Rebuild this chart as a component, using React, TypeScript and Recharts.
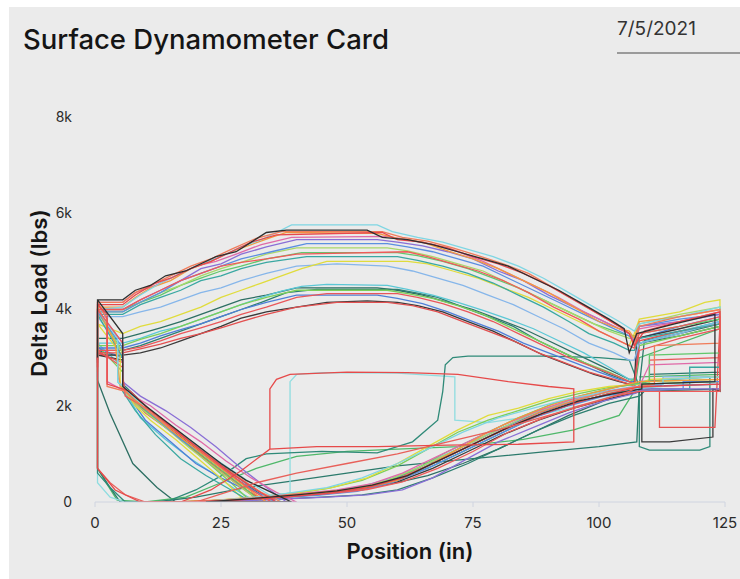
import React from 'react';
import { LineChart, Line, XAxis, YAxis } from 'recharts';

type Pt = [number, number];

// axis ticks
const xTicks = [0, 25, 50, 75, 100, 125];
const yTicks = [0, 2000, 4000, 6000, 8000];

// each card: [position (in), delta load (lbs)] in stroke order
const card01: Pt[] = [[0.5,3000],[0.5,4200],[5.5,4200],[8,4400],[11,4500],[14,4700],[18,4800],[21,4950],[24,5100],[28,5200],[31,5400],[34,5600],[38,5650],[54,5650],[57,5500],[62,5450],[67,5350],[72,5200],[77,5050],[82,4900],[87,4650],[92,4400],[97,4100],[102,3800],[105,3600],[106,3100],[107.5,3500],[115,3700],[123,3900],[123,2500],[108.5,2450],[108.5,2350],[103,2250],[96,2100],[89,1850],[82,1550],[75,1200],[68,850],[62,550],[55,350],[48,230],[40,150],[31,70],[22,0],[39,0],[35,200],[30,450],[25,800],[20,1200],[15,1600],[10,2000],[5.5,2400],[5.5,3500],[0.5,4200]];
const card02: Pt[] = [[0.5,2800],[0.5,4100],[5.5,4100],[8,4300],[12,4550],[15,4650],[19,4850],[23,5000],[27,5200],[31,5400],[36,5550],[57,5600],[60,5450],[65,5400],[70,5280],[75,5100],[80,4950],[85,4750],[90,4500],[95,4200],[100,3900],[104,3650],[106,3500],[107,3250],[109,3550],[116,3750],[124,3950],[124,2450],[110,2400],[107.5,2380],[102,2250],[95,2050],[88,1800],[81,1500],[74,1150],[67,800],[61,500],[54,300],[46,180],[38,100],[28,40],[18,0],[36,0],[32,250],[27,600],[22,1000],[17,1400],[11,1900],[7,2300],[2.4,2450],[2.4,3900],[0.5,4100]];
const card03: Pt[] = [[0.5,3200],[0.5,4000],[5.5,4050],[9,4300],[13,4550],[17,4750],[21,4950],[25,5100],[29,5300],[33,5450],[36,5600],[39,5760],[56,5760],[59,5620],[64,5500],[69,5400],[74,5250],[79,5100],[84,4900],[89,4650],[94,4350],[99,4050],[104,3750],[107,3550],[108,3700],[116,3850],[124,4050],[124,2600],[112.7,2550],[112.7,2400],[107,2350],[101,2280],[94,2150],[87,1950],[80,1750],[73,1450],[66,1100],[60,800],[53,500],[46,300],[38,180],[30,80],[20,0],[37,0],[33,250],[28,600],[23,950],[18,1350],[13,1750],[8,2150],[4.5,2500],[4.5,3400],[0.5,4000]];
const card04: Pt[] = [[0.5,3100],[0.5,4050],[5.5,4050],[8,4250],[11,4450],[15,4600],[19,4850],[23,5000],[27,5200],[31,5350],[35,5500],[38,5600],[56,5580],[60,5480],[65,5400],[70,5220],[75,5050],[80,4850],[85,4600],[90,4350],[95,4050],[100,3750],[104,3600],[106,3550],[107,3400],[108,3750],[116,3850],[124,4000],[124,2550],[108,2500],[102,2350],[96,2200],[90,2000],[84,1750],[78,1450],[72,1100],[66,750],[60,450],[53,280],[45,200],[36,120],[26,50],[16,0],[34,0],[30,300],[25,700],[20,1100],[15,1500],[10,1950],[5,2400],[4,3300],[0.5,4050]];
const card05: Pt[] = [[0.5,2600],[0.5,4150],[5.5,4150],[8,4350],[12,4500],[16,4700],[20,4900],[24,5000],[28,5150],[33,5350],[39,5500],[58,5520],[62,5450],[67,5350],[72,5200],[77,5000],[82,4750],[87,4500],[92,4250],[97,3950],[101,3750],[106,3500],[107,3300],[108,3600],[116,3750],[124,3950],[124,2900],[110,2850],[108,2400],[102,2300],[95,2150],[88,1900],[81,1600],[74,1250],[67,900],[61,600],[55,380],[48,250],[40,170],[32,100],[24,30],[18,0],[40,0],[36,200],[31,500],[26,850],[21,1250],[16,1600],[11,2000],[6,2300],[2.4,2500],[2.4,3800],[0.5,4150]];
const card06: Pt[] = [[0.5,3000],[0.5,4000],[5.5,4000],[9,4200],[13,4400],[17,4600],[21,4850],[25,4950],[29,5150],[34,5300],[40,5450],[56,5450],[60,5400],[65,5320],[70,5200],[75,5050],[80,4800],[85,4600],[90,4300],[95,4050],[100,3800],[104,3600],[106,3500],[107,3350],[108,3650],[116,3750],[124,3900],[124,2350],[109,2350],[107,2250],[101,2100],[94,1850],[87,1550],[80,1250],[73,850],[67,500],[61,250],[54,150],[46,100],[37,60],[28,20],[21,0],[38,0],[34,300],[29,700],[24,1150],[19,1550],[14,1900],[9,2200],[5.5,2500],[5.5,3300],[0.5,4000]];
const card07: Pt[] = [[0.5,3200],[0.5,3950],[5.5,3950],[9,4150],[13,4350],[17,4600],[21,4750],[25,4900],[29,5050],[35,5200],[42,5370],[58,5370],[62,5300],[67,5200],[72,5050],[77,4900],[82,4650],[87,4400],[92,4150],[97,3900],[102,3650],[106,3450],[107,3300],[108,3650],[116,3800],[124,3900],[124,2500],[116.7,2500],[116.7,2350],[107,2300],[101,2200],[94,2000],[87,1750],[80,1400],[73,1050],[66,700],[59,400],[52,220],[44,140],[35,80],[26,30],[19,0],[36,0],[32,200],[27,550],[22,950],[17,1300],[12,1750],[7,2200],[5.5,2450],[5.5,3200],[0.5,3950]];
const card08: Pt[] = [[0.5,3100],[0.5,4000],[5.5,4000],[9,4150],[13,4300],[17,4500],[21,4650],[25,4800],[29,4900],[34,5050],[41,5180],[60,5180],[64,5120],[69,5000],[74,4850],[79,4650],[84,4450],[89,4200],[94,3950],[99,3700],[103,3550],[106,3450],[107,3450],[108,3500],[116,3650],[124,3800],[124,3100],[110,3050],[110,2500],[104,2400],[98,2250],[91,2050],[84,1750],[77,1400],[70,1050],[63,650],[57,400],[50,250],[42,150],[33,80],[24,20],[17,0],[33,0],[29,350],[24,750],[19,1150],[14,1550],[9,2000],[5.5,2400],[5.5,3100],[0.5,4000]];
const card09: Pt[] = [[0.5,2900],[0.5,4000],[5.5,4000],[9,4200],[13,4400],[17,4600],[21,4750],[25,4900],[29,4980],[34,5050],[40,5150],[62,5200],[66,5100],[71,4950],[76,4800],[81,4600],[86,4350],[91,4050],[96,3800],[100,3550],[103,3400],[106,3250],[107,3200],[108,3500],[116,3650],[124,3850],[124,2300],[108,2300],[103,2200],[96,2000],[89,1750],[82,1450],[75,1050],[68,700],[61,420],[54,260],[47,180],[39,120],[30,60],[22,0],[35,0],[31,250],[26,650],[21,1050],[16,1500],[11,1900],[6,2200],[5.5,2600],[5.5,3300],[0.5,4000]];
const card10: Pt[] = [[0.5,3000],[0.5,3900],[5.5,3900],[9,4100],[13,4250],[17,4400],[21,4600],[25,4700],[29,4850],[34,4980],[42,5100],[60,5100],[64,5020],[69,4900],[74,4750],[79,4550],[84,4300],[89,4050],[94,3750],[98,3500],[103,3300],[106,3150],[107,3150],[108,3400],[116,3550],[124,3700],[124,2800],[118,2800],[118,2350],[108,2350],[102,2250],[95,2050],[88,1800],[81,1450],[74,1100],[67,750],[60,450],[53,270],[45,180],[36,110],[27,40],[20,0],[31,0],[27,250],[22,550],[17,900],[12,1400],[8,1900],[5.5,2300],[5.5,3000],[0.5,3900]];
const card11: Pt[] = [[0.5,3000],[0.5,3700],[5.5,3500],[9,3650],[13,3750],[17,3900],[21,4050],[25,4250],[29,4400],[33,4550],[37,4700],[41,4850],[46,5000],[62,5000],[66,4950],[71,4800],[76,4650],[81,4450],[86,4250],[91,4000],[96,3750],[100,3550],[104,3350],[106,3250],[107,3500],[108,3800],[116,3950],[121,4150],[124,4200],[124,2600],[110,2550],[108,2450],[102,2400],[96,2300],[90,2150],[84,1950],[78,1800],[72,1500],[66,1150],[60,800],[54,500],[47,300],[40,190],[31,100],[22,20],[15,0],[30,0],[26,400],[21,850],[16,1300],[11,1700],[8,2000],[5,2450],[5,3100],[0.5,3700]];
const card12: Pt[] = [[0.5,3300],[0.5,3850],[5.5,3850],[9,3950],[13,4050],[17,4200],[21,4350],[25,4450],[29,4600],[34,4750],[40,4900],[48,4950],[58,4900],[63,4800],[68,4650],[73,4500],[78,4300],[83,4100],[88,3850],[93,3600],[98,3300],[103,3100],[106,2950],[107,2950],[108,3300],[116,3500],[124,3750],[124,2600],[112.7,2600],[112.7,2450],[107,2400],[101,2300],[94,2100],[87,1850],[80,1500],[73,1150],[66,800],[59,500],[52,300],[45,200],[37,120],[28,50],[21,0],[36,0],[32,250],[27,600],[22,1000],[17,1400],[11,1850],[6,2250],[4.5,2600],[4.5,3300],[0.5,3850]];
const card13: Pt[] = [[0.5,2900],[0.5,3300],[5.5,3300],[9,3400],[13,3550],[17,3650],[21,3800],[25,3950],[29,4100],[33,4250],[37,4380],[41,4480],[46,4520],[58,4500],[62,4420],[67,4300],[72,4150],[77,3980],[82,3800],[87,3600],[92,3350],[97,3100],[102,2800],[106,2550],[107,2550],[108,3300],[116,3550],[124,3750],[124,2450],[108,2400],[102,2300],[95,2100],[88,1850],[81,1550],[74,1200],[67,850],[60,500],[53,300],[46,200],[38,130],[29,60],[20,0],[32,0],[28,250],[24,550],[19,900],[14,1300],[9,1750],[6,2300],[4.5,2500],[4.5,2900],[0.5,3300]];
const card14: Pt[] = [[0.5,2900],[0.5,3150],[5.5,3150],[9,3250],[13,3400],[17,3550],[21,3700],[25,3850],[29,4000],[33,4150],[38,4350],[44,4420],[60,4420],[64,4340],[68,4250],[73,4050],[78,3850],[83,3650],[88,3350],[93,3100],[98,2850],[102,2650],[106,2500],[107,2500],[108,3300],[116,3500],[124,3700],[124,2300],[109,2300],[108,2200],[102,2050],[95,1800],[88,1500],[81,1150],[74,800],[67,500],[60,250],[53,150],[45,100],[36,60],[27,20],[19,0],[35,0],[31,300],[26,700],[21,1100],[16,1500],[11,1900],[7,2300],[5.5,2450],[5.5,3000],[0.5,3150]];
const card15: Pt[] = [[0.5,3050],[0.5,3250],[5.5,3250],[9,3380],[13,3500],[17,3650],[21,3800],[25,3950],[29,4100],[34,4250],[40,4400],[58,4400],[62,4330],[67,4230],[72,4080],[77,3900],[82,3650],[87,3400],[92,3150],[97,2900],[102,2700],[106,2500],[107,2550],[108,3250],[116,3450],[124,3650],[124,2500],[108,2450],[102,2380],[96,2250],[90,2100],[84,1900],[78,1700],[72,1450],[66,1100],[60,750],[53,450],[46,280],[38,160],[30,70],[23,0],[31,0],[27,400],[22,850],[17,1300],[13,1650],[9,1950],[5.5,2300],[5.5,2700],[0.5,3250]];
const card16: Pt[] = [[0.5,2800],[0.5,3150],[5.5,3150],[9,3220],[13,3350],[17,3500],[21,3620],[25,3750],[29,3900],[34,4050],[40,4250],[46,4330],[60,4330],[64,4250],[69,4120],[74,3950],[79,3750],[84,3500],[89,3250],[94,3000],[99,2800],[104,2600],[106,2500],[107,2450],[108,3150],[116,3400],[124,3600],[124,3000],[110,2950],[110,2350],[108,2300],[102,2250],[95,2050],[88,1800],[81,1500],[74,1150],[67,800],[60,450],[53,250],[45,170],[36,100],[27,40],[18,0],[33,0],[29,300],[24,700],[19,1150],[14,1550],[10,1850],[6,2250],[5.5,2500],[5.5,2800],[0.5,3150]];
const card17: Pt[] = [[0.5,2950],[0.5,3050],[5.5,3050],[9,3100],[13,3200],[17,3350],[21,3500],[25,3650],[29,3820],[34,3950],[40,4050],[46,4150],[54,4180],[60,4150],[64,4080],[69,3950],[74,3750],[79,3550],[84,3300],[89,3050],[94,2850],[99,2650],[104,2500],[106,2450],[107,2450],[107.5,3400],[116,3600],[124,3800],[124,2300],[122.6,2350],[122.6,1350],[114,1250],[108.5,1250],[108.5,2300],[102,2150],[95,1950],[88,1700],[81,1400],[74,1050],[67,700],[60,420],[53,260],[45,160],[36,90],[27,30],[20,0],[36,0],[32,200],[27,550],[22,950],[17,1350],[12,1750],[7,2150],[5.5,2400],[5.5,2950],[0.5,3050]];
const card18: Pt[] = [[0.5,2900],[0.5,3100],[5.5,3100],[9,3180],[13,3280],[17,3400],[21,3500],[25,3620],[29,3750],[34,3900],[40,4050],[48,4150],[58,4150],[63,4080],[68,3950],[73,3750],[78,3550],[83,3350],[88,3100],[93,2900],[98,2700],[103,2550],[106,2450],[107,2400],[108,3350],[116,3550],[124,3700],[123,1550],[112,1550],[112,2350],[108,2350],[102,2250],[95,2050],[88,1800],[81,1500],[74,1150],[67,800],[60,480],[53,300],[45,200],[36,120],[27,50],[18,0],[34,0],[30,250],[25,650],[20,1050],[15,1500],[10,1900],[6,2300],[5.5,2600],[5.5,2900],[0.5,3100]];
const card19: Pt[] = [[0.5,3000],[0.5,3200],[5.5,3200],[9,3300],[13,3450],[17,3580],[21,3700],[25,3850],[29,4000],[34,4150],[40,4300],[56,4300],[60,4230],[65,4120],[70,3950],[75,3750],[80,3550],[85,3300],[90,3100],[95,2900],[100,2700],[104,2550],[106,2500],[107,2500],[108,3400],[116,3650],[124,3850],[124,2450],[108,2400],[102,2300],[95,2100],[88,1850],[81,1550],[74,1200],[67,850],[60,500],[53,300],[46,190],[38,120],[29,50],[21,0],[34,0],[30,250],[25,500],[20,800],[15,1250],[10,1700],[6,2300],[5.5,2500],[5.5,3000],[0.5,3200]];
const card20: Pt[] = [[0.5,3000],[0.5,700],[4,250],[9,0],[17,0],[23,250],[29,650],[34.7,1100],[34.7,2350],[36,2550],[38.7,2650],[50,2700],[62,2690],[72,2650],[82,2500],[90,2400],[95,2350],[95,1250],[84,1200],[70,1180],[56,1150],[44,1150],[34.7,1100]];
const card21: Pt[] = [[0.5,3300],[0.5,600],[3,300],[6,0],[14,0],[20,250],[26,600],[30,900],[34,1000],[45,1050],[56,1020],[63,1250],[68,1700],[69,2300],[69.5,2850],[71,3000],[74,3030],[90,3030],[100,3000],[106,2950],[108,2400],[108,1150],[110,1080],[120,1080],[122,1150],[122,2600],[108,2500]];
const card22: Pt[] = [[0.5,3300],[0.5,400],[3,100],[6,0],[20,0],[30,50],[36,150],[38.7,190],[38.7,2500],[40,2650],[45,2690],[60,2680],[71.4,2600],[71.4,1700],[78,1650],[88,1800],[98,2050],[104,2250],[107,2400],[108,3300],[124,3750],[124,2500],[108,2450]];
const card23: Pt[] = [[0.5,3100],[0.5,700],[3,300],[5,0],[12,0],[20,100],[30,300],[40,450],[50,600],[60,750],[75,900],[90,1050],[100,1150],[107.5,1250],[108,2400],[109,3350],[124,3750],[124,2700],[110,2650]];
const card24: Pt[] = [[0.5,3000],[0.5,700],[2.5,350],[4.4,40],[10,0],[18,100],[25,400],[32,700],[40,950],[50,1050],[60,1100],[72,1150],[85,1300],[95,1500],[104,1800],[107,2300],[108,3000],[124,3600],[124,2650],[108,2600]];
const card25: Pt[] = [[0.5,2530],[0.5,3400],[5.5,3400],[9,3500],[13,3620],[17,3750],[21,3900],[25,4050],[29,4200],[34,4300],[40,4450],[56,4450],[60,4400],[65,4300],[70,4150],[75,4000],[80,3800],[85,3600],[90,3350],[95,3100],[100,2850],[104,2650],[106,2550],[107,2550],[108,3300],[116,3450],[124,3650],[124,2350],[108,2300],[101,2100],[94,1800],[87,1450],[80,1100],[73,800],[66,550],[59,380],[52,260],[44,170],[35,100],[26,40],[16,0],[12.3,300],[7.5,800],[3,1840],[0.5,2530]];
const card26: Pt[] = [[0.5,2900],[0.5,700],[3,400],[6,150],[10,0],[20,0],[26,200],[32,400],[40,600],[50,800],[60,1000],[70,1250],[80,1500],[90,1800],[100,2100],[106,2300],[107,2350]];
const card27: Pt[] = [[0.5,2700],[0.5,4150],[5.5,4150],[8,4350],[11,4500],[15,4700],[19,4900],[23,5050],[27,5250],[32,5480],[37,5620],[57,5620],[61,5500],[66,5420],[71,5280],[76,5120],[81,4950],[86,4750],[91,4450],[96,4150],[100,3900],[104,3650],[106,3500],[107,3250],[108,3650],[116,3850],[124,4000],[124,3300],[111,3250],[111,2450],[108,2400],[102,2300],[95,2100],[88,1850],[81,1500],[74,1150],[67,800],[60,480],[53,300],[45,200],[36,120],[26,40],[17,0],[37,0],[33,200],[28,550],[23,900],[18,1300],[13,1700],[8,2100],[6,2300],[2.4,2400],[2.4,3800],[0.5,4150]];
const card28: Pt[] = [[0.5,3000],[0.5,3950],[5.5,3950],[9,4150],[13,4350],[17,4500],[21,4700],[25,4850],[29,4980],[34,5150],[40,5280],[58,5280],[62,5220],[67,5100],[72,4950],[77,4800],[82,4550],[87,4300],[92,4050],[97,3800],[102,3550],[106,3400],[107,3400],[108,3700],[116,3900],[124,4050],[124,2550],[110,2500],[110,2400],[106,2350],[100,2250],[93,2050],[86,1800],[79,1450],[72,1100],[65,750],[58,450],[51,280],[43,180],[34,100],[25,30],[18,0],[33,0],[29,300],[24,700],[19,1100],[14,1550],[9,1950],[5.5,2350],[5.5,3100],[0.5,3950]];

const cards: Pt[][] = [card25, card24, card23, card22, card21, card14, card13, card15, card19, card17, card16, card18, card12, card11, card10, card08, card28, card07, card06, card05, card04, card03, card09, card27, card02, card01, card26, card20];
const cardColors = ['#2d6f63', '#4fb86a', '#2b7a6c', '#8fdde0', '#2f8a78', '#2d7f70', '#5cc8d6', '#7ccf5a', '#4f7fd8', '#3a3a3a', '#e9575a', '#e35050', '#86b6ea', '#e0dc3c', '#3aa8a2', '#62c86c', '#a9d86a', '#5b8fe0', '#8a6fd6', '#e06aa8', '#f29a3e', '#7fd6e3', '#f05a5a', '#f07c5a', '#e8484d', '#2f2f2f', '#e8605a', '#e64a4a'];

const font = 'Inter, "Noto Sans", sans-serif';

export default function App() {
  return (
    <div style={{ position: 'relative', width: 740, height: 579, background: '#fff', overflow: 'hidden', fontFamily: font }}>
      <style>{'html,body{margin:0;overflow:hidden}'}</style>
      <div style={{ position: 'absolute', left: 9, top: 7, right: 0, bottom: 0, background: '#ebebeb' }} />
      <div style={{ position: 'absolute', left: 23, top: 26, fontSize: 27.5, lineHeight: 1, fontWeight: 500, color: '#151515', whiteSpace: 'nowrap' }}>
        Surface Dynamometer Card
      </div>
      <div style={{ position: 'absolute', left: 617, top: 19, fontSize: 19, lineHeight: 1, color: '#333', whiteSpace: 'nowrap' }}>
        7/5/2021
      </div>
      <div style={{ position: 'absolute', left: 617, top: 52, width: 123, height: 1.5, background: '#9a9a9a' }} />
      <div style={{ position: 'absolute', left: 0, top: 0 }}>
        <LineChart width={740} height={579} margin={{ top: 117, right: 15, bottom: 47, left: 35 }}>
          <XAxis
            type="number"
            dataKey="x"
            domain={[0, 125]}
            ticks={xTicks}
            allowDataOverflow
            stroke="#cfd4e0"
            tickSize={5}
            tickMargin={10}
            tick={{ fill: '#2a2a2a', fontSize: 15, fontFamily: font }}
          />
          <YAxis
            type="number"
            dataKey="y"
            domain={[0, 8000]}
            ticks={yTicks}
            allowDataOverflow
            width={60}
            axisLine={false}
            tickLine={false}
            tickSize={0}
            tickMargin={23}
            tickFormatter={(v: number) => (v === 0 ? '0' : `${v / 1000}k`)}
            tick={{ fill: '#2a2a2a', fontSize: 14, fontFamily: font }}
          />
          {cards.map((c, i) => (
            <Line
              key={i}
              data={c.map(([x, y]) => ({ x, y }))}
              dataKey="y"
              type="linear"
              stroke={cardColors[i]}
              strokeWidth={1.3}
              dot={false}
              activeDot={false}
              isAnimationActive={false}
            />
          ))}
        </LineChart>
      </div>
      <div style={{ position: 'absolute', left: 260, top: 540, width: 300, textAlign: 'center', fontSize: 22, lineHeight: 1, fontWeight: 600, color: '#151515' }}>
        Position (in)
      </div>
      <div style={{ position: 'absolute', left: 39 - 150, top: 293 - 11, width: 300, textAlign: 'center', fontSize: 22, lineHeight: 1, fontWeight: 600, color: '#151515', transform: 'rotate(-90deg)' }}>
        Delta Load (lbs)
      </div>
    </div>
  );
}
